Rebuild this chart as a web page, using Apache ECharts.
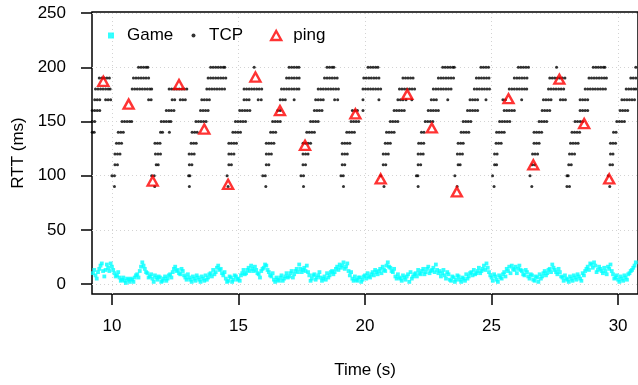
<!DOCTYPE html>
<html>
<head>
<meta charset="utf-8">
<title>RTT over time</title>
<script src="https://cdn.jsdelivr.net/npm/echarts@6/dist/echarts.min.js"></script>
<style>
  html, body { margin: 0; padding: 0; background: #fff; }
  #chart { width: 638px; height: 385px; }
</style>
</head>
<body>
<div id="chart"></div>
<script>
// axis ticks
var xTicks = [10, 15, 20, 25, 30];
var yTicks = [0, 50, 100, 150, 200, 250];

// ping probes (time s, rtt ms)
var pingTime = [9.66, 10.66, 11.61, 12.65, 13.65, 14.59, 15.67, 16.64, 17.63, 19.62,
  20.62, 21.67, 22.64, 23.63, 25.67, 26.65, 27.68, 28.66, 29.65];
var pingRtt = [187, 166, 95, 184, 143, 92, 191, 160, 128, 157,
  97, 175, 144, 85, 171, 110, 189, 148, 97];

// game packets every 0.05 s: stream A at 9.2, 9.3, ... and stream B at 9.25, 9.35, ...
var gameStartA = 9.2;
var gameStartB = 9.25;
var gameStep = 0.1;
var gameRttA = [
  6, 13, 5, 14, 19, 7, 18, 12,
  16, 10, 8, 6, 4, 3, 5, 2, 4, 6,
  9, 12, 20, 14, 10, 7, 5, 8, 4, 6,
  3, 7, 5, 9, 11, 16, 13, 9, 12, 6,
  9, 4, 7, 3, 6, 2, 5, 8, 6, 10,
  13, 11, 17, 14, 8, 5, 3, 6, 4, 7,
  5, 8, 13, 10, 15, 17, 12, 13, 9, 12,
  15, 17, 11, 7, 4, 6, 3, 8, 5, 10,
  7, 12, 9, 14, 18, 11, 15, 17, 8, 5,
  9, 6, 11, 3, 7, 10, 8, 12, 11, 16,
  18, 17, 14, 19, 8, 5, 7, 3, 6, 4,
  8, 10, 6, 11, 13, 9, 14, 16, 12, 20,
  15, 11, 7, 9, 5, 8, 4, 9, 11, 7,
  10, 13, 9, 14, 11, 16, 12, 15, 18, 10,
  7, 13, 5, 9, 3, 6, 4, 7, 2, 5,
  9, 7, 11, 13, 10, 15, 12, 17, 19, 11,
  6, 9, 4, 8, 5, 11, 14, 16, 17, 13,
  10, 17, 12, 8, 11, 5, 8, 3, 6, 9,
  7, 12, 10, 14, 18, 13, 9, 11, 6, 8,
  4, 7, 3, 6, 9, 5, 10, 12, 16, 19,
  15, 17, 13, 14, 10, 12, 16, 18, 9, 6,
  4, 7, 3, 6, 9, 12, 15, 20
];
var gameRttB = [
  10, 8, 11, 17, 12, 13, 15, 19,
  13, 7, 11, 3, 6, 1, 4, 5, 2, 8,
  6, 16, 17, 11, 6, 9, 2, 6, 7, 2,
  5, 3, 8, 6, 14, 12, 10, 14, 8, 4,
  6, 2, 5, 8, 4, 7, 3, 4, 9, 7,
  9, 15, 13, 10, 11, 2, 7, 2, 8, 4,
  3, 10, 9, 13, 12, 14, 16, 10, 6, 14,
  18, 13, 8, 10, 2, 4, 6, 3, 7, 6,
  10, 6, 12, 11, 14, 13, 12, 11, 3, 8,
  4, 8, 6, 5, 4, 6, 11, 9, 14, 13,
  15, 20, 16, 12, 11, 3, 4, 6, 2, 7,
  5, 7, 9, 8, 11, 12, 10, 13, 17, 16,
  12, 14, 5, 6, 3, 6, 7, 2, 5, 9,
  7, 10, 12, 9, 14, 10, 13, 11, 13, 12,
  10, 8, 11, 4, 7, 2, 8, 4, 6, 3,
  5, 10, 8, 9, 12, 10, 14, 13, 15, 8,
  3, 7, 2, 6, 9, 7, 12, 10, 14, 16,
  14, 13, 9, 13, 7, 9, 4, 7, 2, 5,
  10, 8, 13, 11, 15, 11, 14, 7, 3, 5,
  2, 5, 8, 4, 7, 3, 8, 14, 13, 18,
  20, 11, 16, 12, 15, 9, 14, 12, 5, 8,
  2, 5, 8, 4, 10, 13, 17
];

// TCP samples, times (s) grouped by measured rtt level (ms)
var tcp200 = [11.05, 11.15, 11.25, 11.35, 11.42, 13.9, 14.0, 14.1, 14.2, 14.3, 14.4, 14.46,
  15.62, 17.0, 17.1, 17.2, 17.3, 17.39, 18.5, 18.6, 18.7, 18.77,
  20.12, 20.22, 20.32, 20.42, 20.51, 23.07, 23.17, 23.27, 23.37, 23.47, 23.53,
  24.58, 24.68, 24.78, 24.88, 26.06, 26.16, 26.26, 26.36, 26.46, 27.57,
  29.02, 29.12, 29.22, 29.32, 29.42, 29.48, 30.7];
var tcp190 = [9.5, 9.6, 9.7, 9.8, 9.9, 10.85, 10.95, 11.05, 11.15, 11.25, 11.35, 11.45,
  13.8, 13.9, 14.0, 14.1, 14.2, 14.3, 14.4, 14.5, 16.9, 17.0, 17.1, 17.2, 17.3, 17.4,
  18.4, 18.5, 18.6, 18.7, 18.8, 18.9, 19.95, 20.05, 20.15, 20.25, 20.35, 20.45, 20.55,
  21.5, 21.6, 21.7, 21.8, 21.9, 22.9, 23.0, 23.1, 23.2, 23.3, 23.4, 23.5,
  24.4, 24.5, 24.6, 24.7, 24.8, 24.9, 25.9, 26.0, 26.1, 26.2, 26.3, 26.4,
  27.3, 27.4, 27.5, 27.6, 27.7, 27.8, 27.9, 28.85, 28.95, 29.05, 29.15, 29.25, 29.35, 29.45, 29.54,
  30.5, 30.6, 30.7];
var tcp180 = [9.35, 9.45, 9.55, 9.65, 9.75, 9.85, 9.93, 10.8, 10.9, 11.0, 11.1, 11.2, 11.3, 11.4, 11.5, 11.57,
  12.26, 12.36, 12.46, 12.56, 12.66, 12.76, 12.86, 12.96, 13.75, 13.85, 13.95, 14.05, 14.15, 14.25, 14.35, 14.45,
  15.22, 15.32, 15.42, 15.52, 15.62, 15.72, 15.82, 15.92, 16.7, 16.8, 16.9, 17.0, 17.1, 17.2, 17.3, 17.39,
  18.15, 18.25, 18.35, 18.45, 18.55, 18.65, 18.75, 18.85, 18.95, 19.92, 20.02, 20.12, 20.22, 20.32, 20.42, 20.52, 20.62,
  21.36, 21.46, 21.56, 21.66, 21.76, 21.86, 21.96, 22.7, 22.8, 22.9, 23.0, 23.1, 23.2, 23.3, 23.4,
  24.32, 24.42, 24.52, 24.62, 24.72, 24.82, 24.92, 25.7, 25.8, 25.9, 26.0, 26.1, 26.2, 26.3, 26.39,
  27.25, 27.35, 27.45, 27.55, 27.65, 27.75, 27.85, 28.7, 28.8, 28.9, 29.0, 29.1, 29.2, 29.3, 29.4, 29.5,
  30.32, 30.42, 30.52, 30.62, 30.7];
var tcp170 = [9.32, 9.42, 9.52, 9.75, 9.85, 9.95, 11.45, 11.55, 12.38, 12.48, 12.7, 12.8, 12.9,
  13.55, 13.65, 13.75, 13.85, 15.22, 15.32, 15.42, 15.78, 15.9, 16.65, 16.75, 16.85, 17.2,
  18.05, 18.15, 18.25, 18.35, 18.8, 18.92, 19.92, 20.55, 21.3, 21.4, 21.5, 21.62, 21.85,
  22.62, 22.72, 22.82, 23.27, 24.15, 24.25, 24.35, 24.45, 24.78, 25.45, 25.55, 26.19,
  27.05, 27.15, 27.25, 27.35, 27.72, 27.82, 27.92, 28.5, 28.6, 28.7, 28.8,
  30.15, 30.25, 30.35, 30.45, 30.55, 30.65];
var tcp160 = [9.22, 9.32, 9.42, 9.52, 12.15, 12.25, 12.35, 12.45, 13.5, 13.6, 13.7, 13.8,
  15.05, 15.15, 15.25, 15.35, 15.45, 16.55, 16.65, 18.0, 18.1, 18.2, 18.3, 19.5, 19.6, 19.7, 19.92,
  21.15, 21.25, 21.35, 21.45, 21.55, 22.5, 22.6, 22.7, 22.8, 22.9, 24.05, 24.15, 24.25, 24.35, 24.45,
  25.5, 25.6, 25.7, 25.8, 25.9, 27.0, 27.1, 27.2, 27.3, 28.5, 28.6, 28.7, 28.8,
  30.08, 30.18, 30.28, 30.38];
var tcp150 = [9.22, 9.32, 10.4, 10.5, 10.6, 10.7, 10.78, 11.95, 12.05, 12.15, 12.25, 12.33,
  13.32, 13.42, 13.52, 13.62, 13.72, 14.88, 14.98, 15.08, 15.18, 15.28, 16.35, 16.45, 16.55, 16.65,
  17.85, 17.95, 18.05, 18.15, 19.45, 19.55, 19.65, 19.75, 21.0, 21.1, 21.2, 21.3,
  22.38, 22.48, 22.58, 22.68, 23.88, 23.98, 24.08, 24.18, 25.32, 25.42, 25.52, 25.62, 25.72,
  26.88, 26.98, 27.08, 27.18, 28.3, 28.4, 28.5, 28.6, 29.95, 30.05, 30.15, 30.25];
var tcp140 = [9.22, 9.3, 10.25, 10.35, 10.45, 11.92, 12.0, 12.27, 13.17, 13.27, 13.37,
  14.78, 14.88, 14.98, 15.08, 16.27, 16.37, 16.47, 17.7, 17.8, 17.9, 18.0,
  19.28, 19.38, 19.48, 19.58, 20.85, 20.95, 21.05, 21.15, 22.23, 22.33,
  23.8, 23.9, 24.0, 24.1, 25.2, 25.3, 25.4, 25.5, 26.68, 26.78, 26.88, 26.98,
  28.18, 28.28, 28.38, 28.48, 29.82, 29.92];
var tcp130 = [10.18, 10.28, 10.38, 11.7, 11.8, 11.9, 13.13, 13.23, 13.33, 14.62, 14.72, 14.82, 14.92,
  16.1, 16.2, 16.3, 16.4, 17.55, 17.65, 17.75, 17.85, 19.1, 19.2, 19.3, 19.4, 20.8, 20.9, 21.0,
  22.12, 22.22, 22.32, 23.68, 23.78, 23.88, 25.18, 25.28, 25.38, 26.68, 26.78, 26.88,
  28.12, 28.22, 28.32, 28.42, 29.7, 29.8, 29.9];
var tcp120 = [10.12, 10.22, 10.32, 11.72, 11.82, 11.92, 13.05, 13.15, 13.25, 14.62, 14.72, 14.82,
  16.1, 16.2, 16.3, 17.55, 17.65, 17.75, 19.1, 19.2, 19.3, 20.72, 20.82, 20.92,
  22.1, 22.2, 22.3, 23.65, 23.75, 23.85, 25.12, 25.22, 26.62, 26.72, 26.82,
  28.08, 28.18, 28.28, 29.7, 29.8];
var tcp110 = [10.12, 10.22, 11.75, 11.83, 13.06, 13.16, 14.62, 14.72, 16.1, 16.2, 17.55, 17.65,
  19.1, 19.2, 20.72, 20.82, 22.1, 22.2, 23.68, 23.76, 25.12, 25.2, 26.6, 26.7,
  28.05, 28.15, 29.68, 29.78];
var tcp100 = [10.0, 10.1, 11.57, 11.67, 13.03, 13.08, 14.55, 15.96, 16.06, 17.47, 17.57,
  19.05, 19.14, 20.62, 22.03, 22.09, 23.55, 25.04, 26.52, 27.98, 28.03, 29.61];
var tcp90 = [10.1, 11.69, 13.06, 14.59, 16.08, 17.57, 19.15, 20.75, 22.1, 23.64,
  25.1, 26.59, 27.98, 28.08, 29.67];

var tcpLevels = [
  [200, tcp200], [190, tcp190], [180, tcp180], [170, tcp170], [160, tcp160], [150, tcp150],
  [140, tcp140], [130, tcp130], [120, tcp120], [110, tcp110], [100, tcp100], [90, tcp90]
];

var gameData = gameRttA.map(function (v, i) { return [gameStartA + i * gameStep, v]; })
  .concat(gameRttB.map(function (v, i) { return [gameStartB + i * gameStep, v]; }));
var tcpData = [];
tcpLevels.forEach(function (lv) {
  lv[1].forEach(function (t) { tcpData.push([t, lv[0]]); });
});
var pingData = pingTime.map(function (t, i) { return [t, pingRtt[i]]; });

var font = 'Liberation Sans, Arial, Helvetica, sans-serif';
var gridLines = xTicks.map(function (v) { return { xAxis: v }; })
  .concat(yTicks.map(function (v) { return { yAxis: v }; }));

var chart = echarts.init(document.getElementById('chart'));
var option = {
  animation: false,
  textStyle: { fontFamily: font },
  grid: {
    left: 92, top: 12, right: -2, bottom: 91,
    show: true, borderColor: '#000', borderWidth: 1.5
  },
  legend: [
    {
      data: ['Game'], left: 108, top: 27, padding: 0,
      icon: 'rect', itemWidth: 6, itemHeight: 6,
      textStyle: { fontSize: 17, color: '#000', fontFamily: font, padding: [0, 0, 0, 8] }
    },
    {
      data: ['TCP'], left: 191.5, top: 27, padding: 0,
      icon: 'circle', itemWidth: 4, itemHeight: 4,
      textStyle: { fontSize: 17, color: '#000', fontFamily: font, padding: [0, 0, 0, 8.5] }
    },
    {
      data: ['ping'], left: 270, top: 27, padding: 0,
      icon: 'triangle', itemWidth: 10, itemHeight: 9,
      itemStyle: { color: 'transparent', borderColor: '#ff0000', borderWidth: 2.4 },
      textStyle: { fontSize: 17, color: '#000', fontFamily: font, padding: [0, 0, 0, 7] }
    }
  ],
  xAxis: {
    type: 'value', min: 9.2126, max: 30.787,
    axisLine: { show: false, onZero: false },
    axisTick: { show: true, customValues: xTicks, length: 11, lineStyle: { color: '#000', width: 1.5 } },
    axisLabel: { customValues: xTicks, margin: 24, fontSize: 17, color: '#000', fontFamily: font },
    splitLine: { show: false },
    name: 'Time (s)', nameLocation: 'middle', nameGap: 68,
    nameTextStyle: { fontSize: 17, color: '#000', fontFamily: font }
  },
  yAxis: {
    type: 'value', min: -9.2, max: 251,
    axisLine: { show: false },
    axisTick: { show: true, customValues: yTicks, length: 11, lineStyle: { color: '#000', width: 1.5 } },
    axisLabel: { customValues: yTicks, margin: 26, fontSize: 17, color: '#000', fontFamily: font },
    splitLine: { show: false },
    name: 'RTT (ms)', nameLocation: 'middle', nameGap: 64,
    nameTextStyle: { fontSize: 17, color: '#000', fontFamily: font }
  },
  series: [
    {
      name: 'Game', type: 'scatter', data: gameData, z: 2,
      symbol: 'rect', symbolSize: 3.8,
      itemStyle: { color: '#00ffff' },
      markLine: {
        silent: true, symbol: ['none', 'none'], z: 1,
        label: { show: false },
        lineStyle: { color: '#d3d3d3', type: [1, 3], width: 1 },
        data: gridLines
      }
    },
    {
      name: 'TCP', type: 'scatter', data: tcpData, z: 3,
      symbol: 'circle', symbolSize: 3,
      itemStyle: { color: '#000' }
    },
    {
      name: 'ping', type: 'scatter', data: pingData, z: 4,
      symbol: 'triangle', symbolSize: [10, 9],
      itemStyle: { color: 'transparent', borderColor: '#ff0000', borderWidth: 2.4 }
    }
  ]
};
chart.setOption(option);
</script>
</body>
</html>
